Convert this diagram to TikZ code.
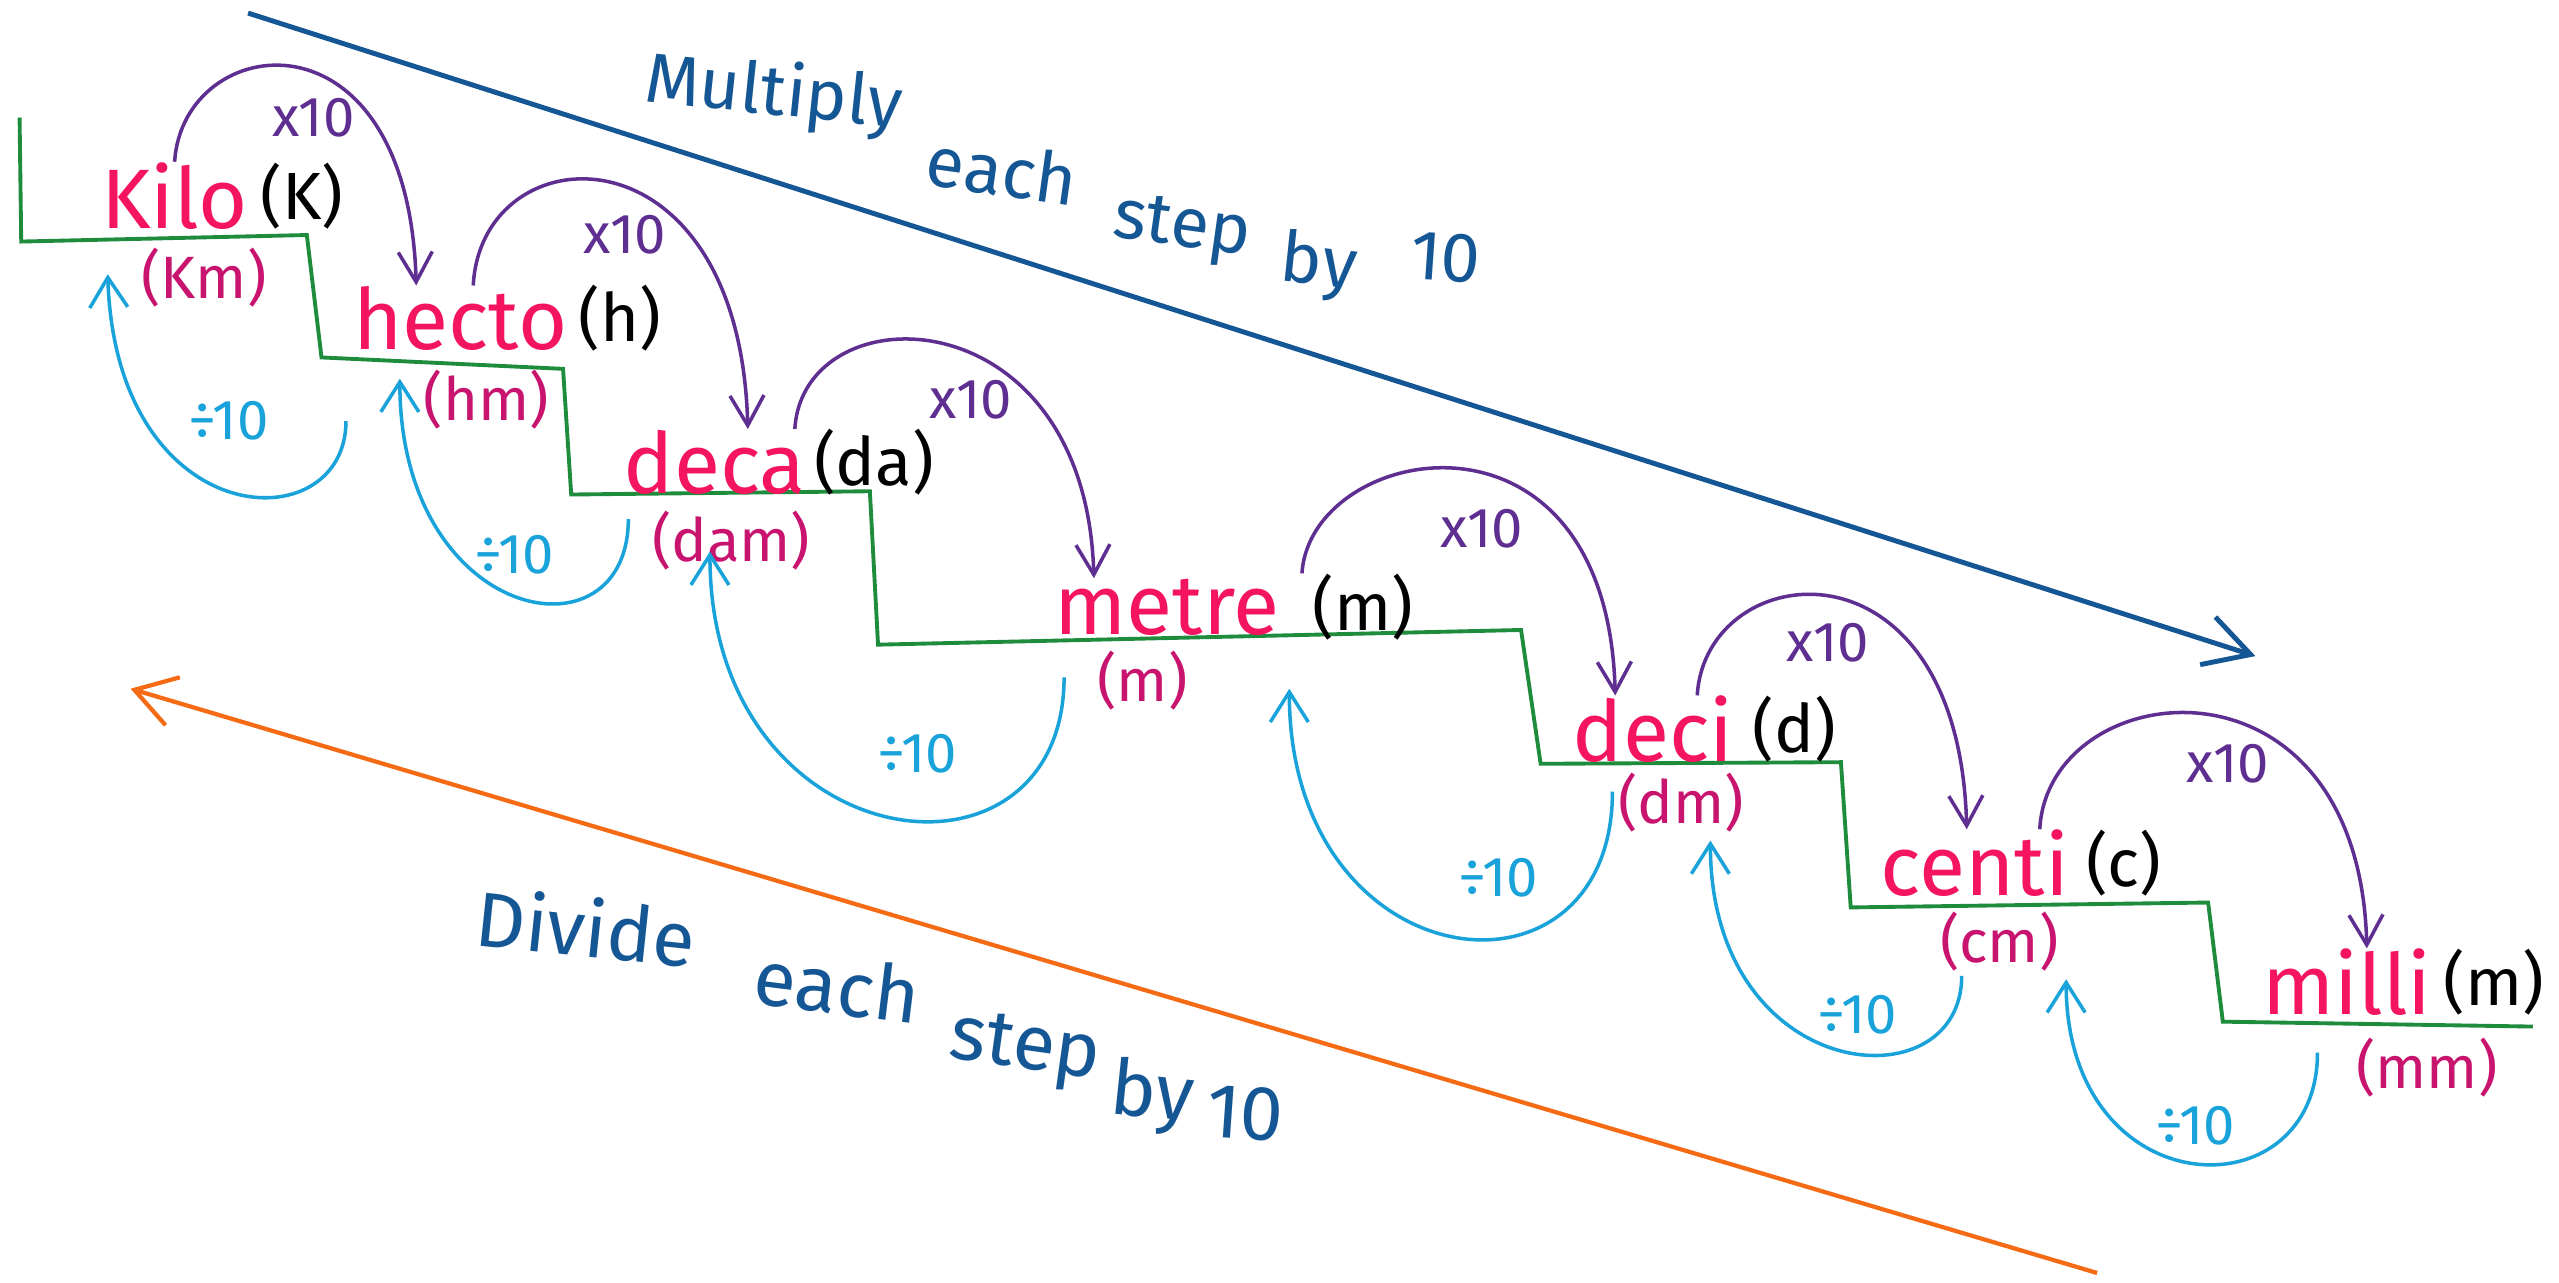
\documentclass[tikz,border=0pt]{standalone}
\usepackage{fontspec}
\setmainfont{Fira Sans}
\usepackage{tikz}
\usetikzlibrary{
  arrows.meta,
  positioning
}
\definecolor{PrefixPink}{RGB}{245,20,95}
\definecolor{UnitPink}{RGB}{200,20,110}
\definecolor{StepGreen}{RGB}{30,140,60}
\definecolor{TimesPurple}{RGB}{94,46,145}
\definecolor{DivideCyan}{RGB}{25,163,218}
\definecolor{NoteBlue}{RGB}{21,86,148}
\definecolor{BackOrange}{RGB}{245,106,20}
\tikzset{
  prefixnode/.style={text=PrefixPink,inner sep=0pt,font=\fontsize{24}{28}\selectfont},
  symbolnode/.style={text=black,inner sep=0pt,font=\fontsize{19}{22}\selectfont},
  unitnode/.style={text=UnitPink,inner sep=0pt,font=\fontsize{17}{20}\selectfont},
  timeslabel/.style={text=TimesPurple,inner sep=0pt,font=\fontsize{16}{18}\selectfont},
  dividelabel/.style={text=DivideCyan,inner sep=0pt,font=\fontsize{16}{18}\selectfont},
  mulword/.style={text=NoteBlue,inner sep=0pt,font=\fontsize{20}{24}\selectfont},
  divword/.style={text=NoteBlue,inner sep=0pt,font=\fontsize{22}{26}\selectfont},
  stairline/.style={draw=StepGreen,line width=1.1pt},
  timesarrow/.style={-{Straight Barb[length=3mm,width=3.4mm]},line width=1pt,draw=TimesPurple},
  dividearrow/.style={-{Straight Barb[length=3mm,width=3.8mm]},line width=1pt,draw=DivideCyan},
  multiplyline/.style={-{Straight Barb[length=4.5mm,width=5mm]},line width=1.4pt,draw=NoteBlue},
  divideline/.style={-{Straight Barb[length=4mm,width=5mm]},line width=1.2pt,draw=BackOrange}
}
\begin{document}
\begin{tikzpicture}[x=0.1632mm,y=-0.1632mm,node distance=1mm]
\path[use as bounding box,fill=white] (0,0) rectangle (1568,786);
% staircase
\draw[stairline] (12,72) -- (13,148) -- (188,144) -- (197,219) -- (345,226) -- (350,303)
  -- (533,301) -- (538,395) -- (932,386) -- (944,468) -- (1128,467) -- (1134,556)
  -- (1353,553) -- (1362,626) -- (1552,629);
% prefixes on the steps
\node[prefixnode] (kilo) at (107,120) {Kilo};
\node[symbolnode, right=1.1mm of kilo] (kiloS) {(K)};
\node[unitnode] (kiloU) at (125,170) {(Km)};
\node[prefixnode] (hecto) at (282,195) {hecto};
\node[symbolnode, right=1mm of hecto] (hectoS) {(h)};
\node[unitnode] (hectoU) at (298,245) {(hm)};
\node[prefixnode] (deca) at (438,283) {deca};
\node[symbolnode, right=0.7mm of deca] (decaS) {(da)};
\node[unitnode] (decaU) at (448,331) {(dam)};
\node[prefixnode] (metre) at (715,372) {metre};
\node[symbolnode, right=3.2mm of metre] (metreS) {(m)};
\node[unitnode] (metreU) at (700,417) {(m)};
\node[prefixnode] (deci) at (1013,447) {deci};
\node[symbolnode, right=1.8mm of deci] (deciS) {(d)};
\node[unitnode] (deciU) at (1030,492) {(dm)};
\node[prefixnode] (centi) at (1210,529) {centi};
\node[symbolnode, right=1.6mm of centi] (centiS) {(c)};
\node[unitnode] (centiU) at (1225,577) {(cm)};
\node[prefixnode] (milli) at (1438,602) {milli};
\node[symbolnode, right=1.1mm of milli] (milliS) {(m)};
\node[unitnode] (milliU) at (1487,654) {(mm)};
% x10 going down the steps
\draw[timesarrow] (kilo.north) .. controls +(5,-80) and +(-5,-175) .. ([xshift=-4.4mm]hecto.north);
\draw[timesarrow] ([xshift=1.3mm]hecto.north) .. controls +(5,-95) and +(-5,-190) .. ([xshift=3.3mm]deca.north);
\draw[timesarrow] ([xshift=8mm]deca.north) .. controls +(5,-85) and +(-5,-175) .. ([xshift=-7.3mm]metre.north);
\draw[timesarrow] ([xshift=-1mm]metreS.north west) .. controls +(5,-80) and +(-5,-190) .. ([xshift=-3.8mm]deci.north);
\draw[timesarrow] ([xshift=4.4mm]deci.north) .. controls +(5,-85) and +(-5,-185) .. ([xshift=-0.8mm]centi.north);
\draw[timesarrow] ([xshift=6.5mm]centi.north) .. controls +(5,-95) and +(-5,-190) .. ([xshift=2mm]milli.north);
\node[timeslabel] (t1) at (192,72) {x10};
\node[timeslabel] (t2) at (383,144) {x10};
\node[timeslabel] (t3) at (595,245) {x10};
\node[timeslabel] (t4) at (908,324) {x10};
\node[timeslabel] (t5) at (1120,394) {x10};
\node[timeslabel] (t6) at (1365,468) {x10};
% divide going back up
\draw[dividearrow] ([shift={(-86,13)}]hectoU.center) .. controls +(0,75) and +(5,160) .. ([shift={(-59,-2)}]kiloU.center);
\draw[dividearrow] ([shift={(-63,-13)}]decaU.center) .. controls +(0,90) and +(0,150) .. ([shift={(-53,-13)}]hectoU.center);
\draw[dividearrow] ([shift={(-48,-2)}]metreU.center) .. controls +(0,140) and +(0,190) .. ([shift={(-13,7)}]decaU.center);
\draw[dividearrow] ([shift={(-42,-7)}]deciU.center) .. controls +(0,140) and +(0,180) .. ([shift={(90,5)}]metreU.center);
\draw[dividearrow] ([shift={(-23,21)}]centiU.center) .. controls +(0,80) and +(0,150) .. ([shift={(18,23)}]deciU.center);
\draw[dividearrow] ([shift={(-67,-9)}]milliU.center) .. controls +(0,100) and +(0,140) .. ([shift={(41,23)}]centiU.center);
\node[dividelabel] (d1) at (140,258) {÷10};
\node[dividelabel] (d2) at (315,340) {÷10};
\node[dividelabel] (d3) at (562,462) {÷10};
\node[dividelabel] (d4) at (918,538) {÷10};
\node[dividelabel] (d5) at (1138,622) {÷10};
\node[dividelabel] (d6) at (1345,690) {÷10};
% long arrow down: multiply
\coordinate (mulA) at (152,8);
\coordinate (mulB) at (1382,402);
\draw[multiplyline] (mulA) -- (mulB);
\node[mulword, rotate=-6] (mul1) at (474,58) {Multiply};
\node[mulword, rotate=-8] (mul2) at (614,104) {each};
\node[mulword, rotate=-8] (mul3) at (724,141) {step};
\node[mulword, rotate=-6] (mul4) at (808,163) {by};
\node[mulword, rotate=-4] (mul5) at (886,158) {10};
% long arrow up: divide
\coordinate (divA) at (1285,780);
\coordinate (divB) at (80,422);
\draw[divideline] (divA) -- (divB);
\node[divword, rotate=-6] (div1) at (359,568) {Divide};
\node[divword, rotate=-7] (div2) at (513,604) {each};
\node[divword, rotate=-8] (div3) at (628,644) {step};
\node[divword, rotate=-6] (div4) at (706,672) {by};
\node[divword, rotate=-4] (div5) at (763,682) {10};
\end{tikzpicture}
\end{document}
